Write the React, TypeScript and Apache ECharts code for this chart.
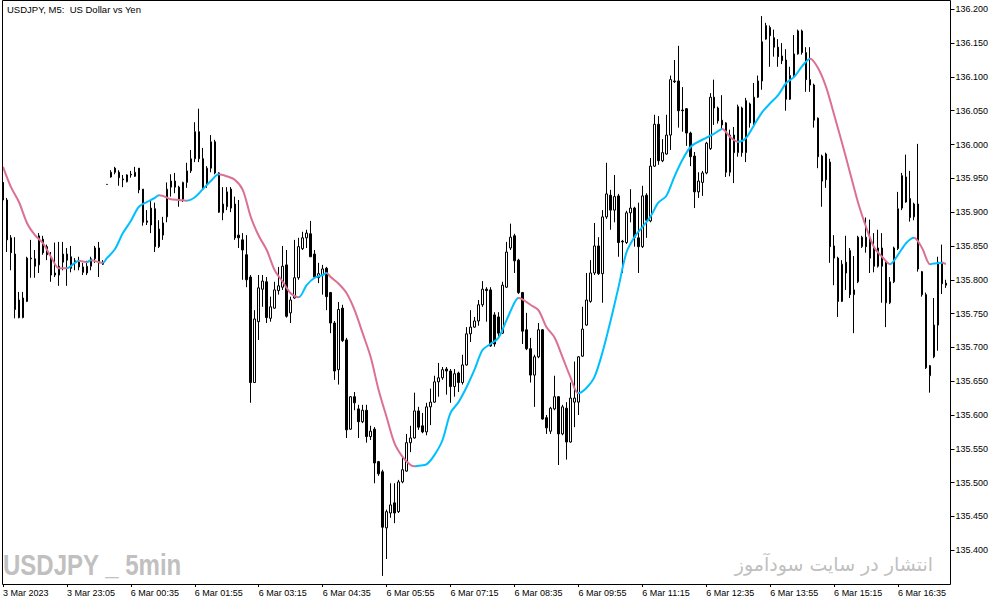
import React, { useEffect, useRef } from "react";
import * as echarts from "echarts";

const tickLabels = [
  "3 Mar 2023", "3 Mar 23:05", "6 Mar 00:35", "6 Mar 01:55", "6 Mar 03:15",
  "6 Mar 04:35", "6 Mar 05:55", "6 Mar 07:15", "6 Mar 08:35", "6 Mar 09:55",
  "6 Mar 11:15", "6 Mar 12:35", "6 Mar 13:55", "6 Mar 15:15", "6 Mar 16:35",
];
const barsPerTick = 16;

const opens = [
  135.944, 135.918, 135.862, 135.838, 135.770, 135.744, 135.768, 135.832, 135.831, 135.822,
  135.860, 135.849, 135.832, 135.807, 135.807, 135.826, 135.838, 135.834, 135.828, 135.826,
  135.819, 135.810, 135.820, 135.831, 135.847, 135.825, 135.941, 135.952, 135.965, 135.959,
  135.949, 135.945, 135.956, 135.953, 135.965, 135.934, 135.887, 135.881, 135.905, 135.849,
  135.866, 135.893, 135.937, 135.946, 135.937, 135.919, 135.944, 135.961, 135.979, 136.019,
  135.979, 135.941, 135.965, 136.004, 135.958, 135.899, 135.908, 135.934, 135.912, 135.866,
  135.859, 135.837, 135.804, 135.648, 135.738, 135.786, 135.797, 135.743, 135.758, 135.784,
  135.789, 135.822, 135.751, 135.773, 135.803, 135.846, 135.862, 135.868, 135.838, 135.803,
  135.807, 135.817, 135.781, 135.736, 135.667, 135.758, 135.711, 135.579, 135.627, 135.609,
  135.590, 135.607, 135.568, 135.579, 135.531, 135.516, 135.433, 135.455, 135.470, 135.457,
  135.501, 135.517, 135.559, 135.566, 135.606, 135.584, 135.575, 135.612, 135.619, 135.649,
  135.655, 135.668, 135.665, 135.642, 135.662, 135.648, 135.674, 135.720, 135.730, 135.739,
  135.763, 135.786, 135.785, 135.748, 135.745, 135.721, 135.789, 135.847, 135.865, 135.829,
  135.781, 135.726, 135.698, 135.659, 135.686, 135.726, 135.596, 135.576, 135.609, 135.627,
  135.572, 135.610, 135.560, 135.619, 135.619, 135.687, 135.733, 135.768, 135.810, 135.850,
  135.809, 135.893, 135.925, 135.903, 135.924, 135.857, 135.855, 135.899, 135.906, 135.862,
  135.849, 135.925, 135.887, 135.968, 136.030, 135.976, 135.986, 136.014, 136.094, 136.094,
  136.051, 136.053, 136.017, 135.983, 135.930, 135.944, 135.958, 135.994, 136.070, 136.054,
  136.036, 136.032, 135.959, 136.014, 135.988, 136.054, 135.988, 136.060, 136.032, 136.070,
  136.094, 136.156, 136.173, 136.158, 136.144, 136.131, 136.125, 136.067, 136.102, 136.134,
  136.168, 136.136, 136.096, 136.088, 136.039, 135.946, 135.986, 135.974, 135.850, 135.832,
  135.768, 135.810, 135.843, 135.778, 135.797, 135.849, 135.863, 135.857, 135.847, 135.820,
  135.847, 135.825, 135.766, 135.797, 135.846, 135.906, 135.952, 135.920, 135.893, 135.912,
  135.812, 135.778, 135.658, 135.686, 135.733, 135.826, 135.795,
];

const closes = [
  135.918, 135.859, 135.840, 135.756, 135.744, 135.773, 135.832, 135.831, 135.820, 135.865,
  135.840, 135.837, 135.807, 135.810, 135.820, 135.838, 135.829, 135.817, 135.826, 135.819,
  135.811, 135.820, 135.831, 135.847, 135.825, 135.823, 135.941, 135.959, 135.959, 135.951,
  135.948, 135.955, 135.955, 135.959, 135.933, 135.885, 135.885, 135.906, 135.849, 135.875,
  135.884, 135.934, 135.946, 135.937, 135.919, 135.944, 135.961, 135.979, 136.019, 135.979,
  135.934, 135.965, 136.004, 135.958, 135.900, 135.912, 135.930, 135.906, 135.862, 135.862,
  135.844, 135.800, 135.648, 135.742, 135.788, 135.798, 135.744, 135.760, 135.785, 135.791,
  135.820, 135.746, 135.770, 135.803, 135.849, 135.862, 135.869, 135.834, 135.804, 135.809,
  135.816, 135.775, 135.736, 135.665, 135.756, 135.710, 135.578, 135.627, 135.618, 135.590,
  135.607, 135.568, 135.576, 135.529, 135.513, 135.434, 135.457, 135.467, 135.455, 135.501,
  135.519, 135.559, 135.566, 135.606, 135.582, 135.575, 135.612, 135.619, 135.649, 135.655,
  135.667, 135.665, 135.642, 135.661, 135.648, 135.674, 135.720, 135.730, 135.739, 135.763,
  135.786, 135.784, 135.702, 135.705, 135.721, 135.792, 135.841, 135.863, 135.828, 135.781,
  135.724, 135.698, 135.659, 135.686, 135.726, 135.594, 135.581, 135.610, 135.627, 135.572,
  135.612, 135.560, 135.625, 135.625, 135.686, 135.727, 135.770, 135.810, 135.850, 135.809,
  135.893, 135.927, 135.903, 135.923, 135.855, 135.856, 135.899, 135.906, 135.863, 135.849,
  135.924, 135.888, 135.968, 136.030, 135.976, 135.988, 136.014, 136.096, 136.093, 136.050,
  136.050, 136.017, 135.982, 135.930, 135.946, 135.958, 136.002, 136.070, 136.054, 136.035,
  136.029, 135.959, 136.014, 135.988, 136.056, 135.988, 136.065, 136.032, 136.070, 136.094,
  136.152, 136.176, 136.161, 136.144, 136.130, 136.124, 136.067, 136.102, 136.134, 136.168,
  136.136, 136.096, 136.088, 136.036, 135.982, 135.983, 135.948, 135.849, 135.832, 135.768,
  135.823, 135.826, 135.778, 135.785, 135.863, 135.863, 135.849, 135.832, 135.820, 135.847,
  135.820, 135.766, 135.797, 135.847, 135.905, 135.954, 135.915, 135.892, 135.912, 135.816,
  135.778, 135.670, 135.673, 135.733, 135.826, 135.794, 135.792,
];

const lows = [
  135.916, 135.841, 135.814, 135.743, 135.743, 135.743, 135.767, 135.803, 135.803, 135.810,
  135.837, 135.829, 135.797, 135.804, 135.791, 135.814, 135.791, 135.811, 135.814, 135.814,
  135.807, 135.807, 135.814, 135.825, 135.804, 135.822, 135.941, 135.951, 135.956, 135.939,
  135.937, 135.944, 135.951, 135.952, 135.928, 135.880, 135.881, 135.869, 135.841, 135.847,
  135.859, 135.885, 135.923, 135.928, 135.908, 135.915, 135.936, 135.958, 135.974, 135.974,
  135.933, 135.936, 135.959, 135.956, 135.899, 135.888, 135.903, 135.900, 135.859, 135.847,
  135.800, 135.789, 135.618, 135.648, 135.711, 135.760, 135.736, 135.738, 135.757, 135.778,
  135.785, 135.744, 135.736, 135.772, 135.800, 135.844, 135.847, 135.834, 135.803, 135.795,
  135.778, 135.755, 135.721, 135.652, 135.645, 135.708, 135.566, 135.578, 135.607, 135.566,
  135.588, 135.559, 135.563, 135.499, 135.510, 135.362, 135.387, 135.448, 135.440, 135.455,
  135.499, 135.516, 135.545, 135.565, 135.578, 135.573, 135.570, 135.585, 135.618, 135.627,
  135.652, 135.630, 135.618, 135.627, 135.634, 135.645, 135.673, 135.708, 135.729, 135.732,
  135.760, 135.738, 135.701, 135.701, 135.716, 135.720, 135.788, 135.844, 135.810, 135.779,
  135.705, 135.696, 135.648, 135.612, 135.684, 135.593, 135.572, 135.572, 135.607, 135.526,
  135.570, 135.534, 135.559, 135.582, 135.600, 135.686, 135.732, 135.766, 135.807, 135.807,
  135.766, 135.890, 135.874, 135.885, 135.834, 135.810, 135.853, 135.885, 135.849, 135.810,
  135.847, 135.862, 135.885, 135.967, 135.970, 135.974, 135.985, 135.992, 136.091, 136.025,
  136.019, 135.998, 135.968, 135.906, 135.921, 135.924, 135.956, 135.992, 136.029, 136.031,
  136.023, 135.952, 135.953, 135.943, 135.982, 135.982, 135.974, 136.025, 136.029, 136.069,
  136.081, 136.155, 136.115, 136.130, 136.115, 136.119, 136.050, 136.066, 136.100, 136.133,
  136.133, 136.078, 136.078, 136.025, 135.965, 135.908, 135.936, 135.825, 135.792, 135.745,
  135.767, 135.785, 135.773, 135.721, 135.795, 135.847, 135.840, 135.810, 135.811, 135.818,
  135.766, 135.730, 135.764, 135.795, 135.844, 135.903, 135.914, 135.886, 135.888, 135.812,
  135.775, 135.668, 135.633, 135.684, 135.695, 135.779, 135.788,
];

const highs = [
  135.945, 135.921, 135.866, 135.863, 135.782, 135.782, 135.834, 135.859, 135.844, 135.869,
  135.865, 135.852, 135.841, 135.855, 135.856, 135.856, 135.847, 135.850, 135.832, 135.834,
  135.825, 135.828, 135.834, 135.850, 135.856, 135.829, 135.941, 135.962, 135.967, 135.962,
  135.955, 135.956, 135.961, 135.967, 135.965, 135.934, 135.903, 135.918, 135.914, 135.888,
  135.893, 135.944, 135.956, 135.958, 135.939, 135.945, 135.973, 135.992, 136.033, 136.053,
  135.995, 135.968, 136.014, 136.007, 135.959, 135.937, 135.937, 135.937, 135.923, 135.918,
  135.869, 135.866, 135.807, 135.755, 135.807, 135.807, 135.804, 135.775, 135.797, 135.819,
  135.850, 135.844, 135.775, 135.859, 135.862, 135.871, 135.874, 135.887, 135.844, 135.825,
  135.822, 135.819, 135.782, 135.739, 135.767, 135.763, 135.714, 135.628, 135.634, 135.615,
  135.615, 135.615, 135.584, 135.582, 135.532, 135.519, 135.460, 135.499, 135.499, 135.504,
  135.537, 135.572, 135.584, 135.633, 135.612, 135.603, 135.618, 135.639, 135.658, 135.677,
  135.671, 135.671, 135.668, 135.668, 135.664, 135.689, 135.730, 135.755, 135.745, 135.770,
  135.798, 135.789, 135.789, 135.752, 135.752, 135.797, 135.856, 135.883, 135.868, 135.831,
  135.782, 135.751, 135.714, 135.689, 135.736, 135.727, 135.600, 135.612, 135.658, 135.628,
  135.615, 135.619, 135.648, 135.679, 135.687, 135.760, 135.810, 135.829, 135.884, 135.863,
  135.903, 135.973, 135.933, 135.955, 135.927, 135.859, 135.902, 135.934, 135.908, 135.914,
  135.939, 135.928, 135.980, 136.044, 136.042, 136.008, 136.044, 136.102, 136.125, 136.146,
  136.085, 136.054, 136.019, 135.989, 135.959, 135.961, 136.004, 136.076, 136.096, 136.056,
  136.073, 136.033, 136.022, 136.026, 136.059, 136.056, 136.069, 136.062, 136.091, 136.102,
  136.190, 136.180, 136.176, 136.170, 136.156, 136.150, 136.141, 136.115, 136.162, 136.170,
  136.170, 136.144, 136.144, 136.090, 136.040, 135.985, 135.988, 135.979, 135.866, 135.834,
  135.829, 135.865, 135.847, 135.835, 135.865, 135.865, 135.892, 135.889, 135.869, 135.874,
  135.869, 135.829, 135.804, 135.849, 135.930, 135.958, 135.985, 135.961, 135.914, 136.001,
  135.813, 135.781, 135.674, 135.773, 135.834, 135.852, 135.800,
];

// moving average: bar index and value
const maBars = [
  0, 2, 4, 6, 8, 10, 12, 14, 16, 18, 19, 21, 22, 24, 25, 26, 28, 30, 32, 34,
  36, 38, 39, 40, 42, 44, 46, 48, 50, 52, 54, 56, 58, 60, 62, 64, 66, 68, 70, 72,
  74, 76, 78, 80, 81, 82, 84, 86, 88, 90, 92, 94, 96, 98, 100, 102, 103, 104, 106, 108,
  110, 112, 114, 116, 118, 120, 122, 124, 126, 128, 129, 130, 132, 134, 136, 138, 140, 142, 144, 146,
  148, 150, 152, 154, 156, 158, 160, 162, 164, 166, 168, 170, 172, 174, 176, 178, 180, 182, 184, 186,
  188, 190, 192, 194, 196, 198, 200, 202, 204, 206, 208, 210, 212, 214, 216, 218, 220, 222, 224, 226,
  228, 230, 232, 233, 235, 236,
];
const maValues = [
  135.967, 135.937, 135.915, 135.884, 135.866, 135.854, 135.834, 135.817, 135.817, 135.825,
  135.828, 135.826, 135.829, 135.826, 135.825, 135.832, 135.845, 135.869, 135.887, 135.908,
  135.915, 135.921, 135.925, 135.924, 135.919, 135.918, 135.917, 135.922, 135.934, 135.946,
  135.956, 135.953, 135.948, 135.933, 135.893, 135.865, 135.844, 135.814, 135.797, 135.780,
  135.774, 135.792, 135.803, 135.807, 135.810, 135.804, 135.794, 135.780, 135.755, 135.721,
  135.686, 135.637, 135.597, 135.558, 135.538, 135.526, 135.524, 135.525, 135.527, 135.541,
  135.563, 135.603, 135.619, 135.641, 135.667, 135.696, 135.705, 135.714, 135.740, 135.766,
  135.773, 135.771, 135.763, 135.755, 135.730, 135.715, 135.686, 135.656, 135.632, 135.640,
  135.656, 135.692, 135.738, 135.788, 135.840, 135.863, 135.878, 135.893, 135.914, 135.924,
  135.952, 135.977, 135.996, 136.004, 136.010, 136.016, 136.023, 136.011, 136.004, 136.010,
  136.029, 136.048, 136.061, 136.073, 136.091, 136.100, 136.116, 136.127, 136.113, 136.085,
  136.044, 136.002, 135.958, 135.914, 135.878, 135.848, 135.834, 135.823, 135.837, 135.854,
  135.862, 135.847, 135.823, 135.824, 135.825, 135.823,
];

const categories = opens.map((_, i) => String(i));

const BLUE = "#00bfff";
const PINK = "#db7093";
const FONT = '"Liberation Sans", Arial, sans-serif';

export default function App() {
  const ref = useRef<HTMLDivElement>(null);

  useEffect(() => {
    if (!ref.current) return;
    const chart = echarts.init(ref.current, null, { renderer: "svg" });

    const pieces: any[] = [];
    let prevUp = false;
    for (let k = 1; k < maBars.length; k++) {
      const d = maValues[k] - maValues[k - 1];
      const up = d > 0 ? true : d < 0 ? false : prevUp;
      prevUp = up;
      const color = up ? BLUE : PINK;
      const last = pieces[pieces.length - 1];
      if (last && last.color === color) {
        last.lte = maBars[k];
      } else if (!last) {
        pieces.push({ gte: maBars[k - 1], lte: maBars[k], color });
      } else {
        pieces.push({ gt: maBars[k - 1], lte: maBars[k], color });
      }
    }

    chart.setOption({
      animation: false,
      textStyle: { fontFamily: FONT },
      grid: { left: 0, top: 1, width: 948, bottom: 21 },
      xAxis: {
        type: "category",
        data: categories,
        boundaryGap: true,
        axisLine: { show: false },
        axisTick: {
          show: true,
          interval: barsPerTick - 1,
          alignWithLabel: true,
          length: 3,
          lineStyle: { color: "#000", width: 1 },
        },
        axisLabel: {
          interval: barsPerTick - 1,
          formatter: (_v: string, i: number) => tickLabels[i / barsPerTick] ?? "",
          align: "left",
          margin: 4,
          color: "#000",
          fontSize: 9,
          fontFamily: FONT,
        },
        splitLine: { show: false },
      },
      yAxis: {
        type: "value",
        position: "right",
        min: 135.35,
        max: 136.2123,
        interval: 0.05,
        offset: 2.5,
        axisLine: { show: false },
        axisTick: { show: true, length: 4, lineStyle: { color: "#000", width: 1 } },
        axisLabel: {
          formatter: (v: number) => v.toFixed(3),
          margin: 5,
          color: "#000",
          fontSize: 9,
          fontFamily: FONT,
          showMinLabel: false,
          showMaxLabel: false,
        },
        splitLine: { show: false },
      },
      visualMap: {
        show: false,
        type: "piecewise",
        seriesIndex: 1,
        dimension: 0,
        pieces,
      },
      series: [
        {
          type: "candlestick",
          data: opens.map((o, i) => [o, closes[i], lows[i], highs[i]]),
          barWidth: 2,
          itemStyle: {
            color: "#ffffff",
            color0: "#000000",
            borderColor: "#000000",
            borderColor0: "#000000",
            borderWidth: 1,
          },
          z: 2,
        },
        {
          type: "line",
          data: maBars.map((b, i) => [b, maValues[i]]),
          showSymbol: false,
          smooth: 0.3,
          lineStyle: { width: 2 },
          z: 3,
        },
      ],
      graphic: [
        {
          type: "rect",
          silent: true,
          z: 10,
          shape: { x: 2.5, y: 0.5, width: 948, height: 584 },
          style: { fill: "none", stroke: "#000", lineWidth: 1 },
        },
        {
          type: "text",
          x: 7,
          y: 9.5,
          z: 11,
          style: {
            text: "USDJPY, M5:  US Dollar vs Yen",
            fill: "#000",
            fontSize: 9.5,
            fontFamily: FONT,
            align: "left",
            verticalAlign: "middle",
          },
        },
        {
          type: "text",
          x: 3,
          y: 564.5,
          z: 11,
          scaleX: 0.8,
          style: {
            text: "USDJPY _ 5min",
            fill: "#c0c0c0",
            fontSize: 30,
            fontWeight: "bold",
            fontFamily: FONT,
            align: "left",
            verticalAlign: "middle",
          },
        },
        {
          type: "text",
          x: 933,
          y: 564,
          z: 11,
          style: {
            text: "انتشار در سایت سودآموز",
            fill: "#c0c0c0",
            fontSize: 19,
            fontFamily: '"DejaVu Sans", sans-serif',
            align: "right",
            verticalAlign: "middle",
          },
        },
      ],
    });

    return () => chart.dispose();
  }, []);

  return (
    <div
      ref={ref}
      style={{ position: "absolute", left: 0, top: 0, width: 1003, height: 605, background: "#fff" }}
    />
  );
}
